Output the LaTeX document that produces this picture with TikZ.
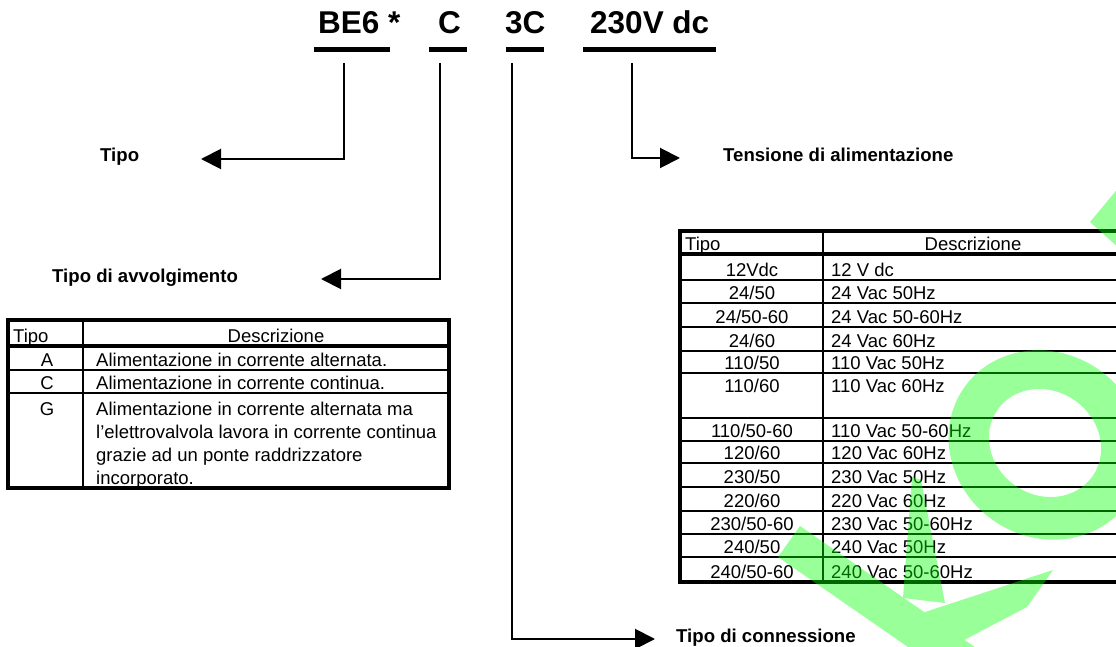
\documentclass[tikz,border=0pt]{standalone}
\usepackage{fontspec}
\setmainfont{Liberation Sans}
\usetikzlibrary{arrows.meta}

\begin{document}
\begin{tikzpicture}[x=1pt,y=-1pt,
    hdr/.style={font=\bfseries\fontsize{31.5}{36}\selectfont, anchor=base west, inner sep=0pt},
    lbl/.style={font=\bfseries\fontsize{18.6}{22}\selectfont, anchor=base west, inner sep=0pt},
    cell/.style={font=\fontsize{18.5}{23}\selectfont, anchor=base west, inner sep=0pt},
    mid/.style={cell, anchor=base},
    link/.style={line width=2pt, -{Triangle[length=20pt,width=20pt]}},
    bar/.style={line width=5.5pt},
    heavy/.style={line width=3.2pt},
    rowline/.style={line width=2.2pt}]
    \fill[white] (0,0) rectangle (1116,647);
    \useasboundingbox (0,0) rectangle (1116,647);

    % code
    \node (be6) [hdr] at (318,34) {BE6 *};
    \node (coil) [hdr] at (438,34) {C};
    \node (plug) [hdr] at (505,34) {3C};
    \node (volt) [hdr] at (590,34) {230V dc};
    \draw [bar] (314,49.5) -- (390,49.5);
    \draw [bar] (429,49.5) -- (467,49.5);
    \draw [bar] (506,49.5) -- (544,49.5);
    \draw [bar] (583,49.5) -- (716,49.5);

    % labels
    \node (tipo) [lbl] at (100,162) {Tipo};
    \node (avv) [lbl] at (52,282) {Tipo di avvolgimento};
    \node (tens) [lbl] at (723,162) {Tensione di alimentazione};
    \node (conn) [lbl] at (676,642) {Tipo di connessione};

    \coordinate (be6foot) at (344,63);
    \coordinate (coilfoot) at (440,63);
    \coordinate (plugfoot) at (512,63);
    \coordinate (voltfoot) at (632,63);
    \coordinate (tipotip) at (201,159);
    \coordinate (avvtip) at (321,279);
    \coordinate (conntip) at (655,639);
    \coordinate (tenstip) at (680,158);

    \draw [link] (be6foot) |- (tipotip);
    \draw [link] (coilfoot) |- (avvtip);
    \draw [link] (plugfoot) |- (conntip);
    \draw [link] (voltfoot) |- (tenstip);

    % coil table
    \draw [rowline] (83,320) -- (83,488);
    \draw [rowline] (8,370) -- (449,370) (8,393) -- (449,393);
    \draw [heavy] (8,346) -- (449,346);
    \draw [heavy] (8,320) rectangle (449,488);

    \node (ctipo) [cell] at (13,342) {Tipo};
    \node (cdesc) [mid] at (276,342) {Descrizione};
    \node (ca) [mid] at (47,366) {A};
    \node (cad) [cell] at (96,366) {Alimentazione in corrente alternata.};
    \node (cc) [mid] at (47,389) {C};
    \node (ccd) [cell] at (96,389) {Alimentazione in corrente continua.};
    \node (cg) [mid] at (47,415) {G};
    \node (cgd1) [cell] at (96,415) {Alimentazione in corrente alternata ma};
    \node (cgd2) [cell] at (96,438) {l’elettrovalvola lavora in corrente continua};
    \node (cgd3) [cell] at (96,461) {grazie ad un ponte raddrizzatore};
    \node (cgd4) [cell] at (96,484) {incorporato.};

    % voltage table
    \draw [rowline] (823,231) -- (823,582);
    \draw [rowline] (680,280) -- (1116,280) (680,303) -- (1116,303)
        (680,327) -- (1116,327) (680,351) -- (1116,351)
        (680,373) -- (1116,373) (680,418) -- (1116,418)
        (680,441) -- (1116,441) (680,463) -- (1116,463)
        (680,487) -- (1116,487) (680,511) -- (1116,511)
        (680,534) -- (1116,534) (680,557) -- (1116,557);
    \draw [heavy] (680,254) -- (1116,254);
    \draw [heavy] (1116,231) -- (680,231) -- (680,582) -- (1116,582);

    \node (vtipo) [cell] at (685,251) {Tipo};
    \node (vdesc) [mid] at (973,251) {Descrizione};
    \node (v1) [mid] at (752,276) {12Vdc};
    \node (v1d) [cell] at (831,276) {12 V dc};
    \node (v2) [mid] at (752,299) {24/50};
    \node (v2d) [cell] at (831,299) {24 Vac 50Hz};
    \node (v3) [mid] at (752,323) {24/50-60};
    \node (v3d) [cell] at (831,323) {24 Vac 50-60Hz};
    \node (v4) [mid] at (752,347) {24/60};
    \node (v4d) [cell] at (831,347) {24 Vac 60Hz};
    \node (v5) [mid] at (752,369) {110/50};
    \node (v5d) [cell] at (831,369) {110 Vac 50Hz};
    \node (v6) [mid] at (752,392) {110/60};
    \node (v6d) [cell] at (831,392) {110 Vac 60Hz};
    \node (v7) [mid] at (752,437) {110/50-60};
    \node (v7d) [cell] at (831,437) {110 Vac 50-60Hz};
    \node (v8) [mid] at (752,459) {120/60};
    \node (v8d) [cell] at (831,459) {120 Vac 60Hz};
    \node (v9) [mid] at (752,483) {230/50};
    \node (v9d) [cell] at (831,483) {230 Vac 50Hz};
    \node (v10) [mid] at (752,507) {220/60};
    \node (v10d) [cell] at (831,507) {220 Vac 60Hz};
    \node (v11) [mid] at (752,530) {230/50-60};
    \node (v11d) [cell] at (831,530) {230 Vac 50-60Hz};
    \node (v12) [mid] at (752,553) {240/50};
    \node (v12d) [cell] at (831,553) {240 Vac 50Hz};
    \node (v13) [mid] at (752,578) {240/50-60};
    \node (v13d) [cell] at (831,578) {240 Vac 50-60Hz};

    % watermark
    \begin{scope}[transparency group, opacity=0.4]
    \fill [green] (778,557) -- (800,526) -- (1005,668) -- (983,699) -- cycle;
    \fill [green] (903,598) -- (912,477) -- (921,480) -- (945,603) -- cycle;
    \fill [green] (925,612) -- (1053,570) -- (1027,607) -- (945,650) -- cycle;
    \fill [green, even odd rule] (1046,445) ellipse [x radius=100pt, y radius=92pt, rotate=-35]
        (1045,443) ellipse [x radius=58pt, y radius=52pt, rotate=-35];
    \fill [green] (1090,222) -- (1120,186) -- (1120,249) -- cycle;
    \end{scope}
\end{tikzpicture}
\end{document}
